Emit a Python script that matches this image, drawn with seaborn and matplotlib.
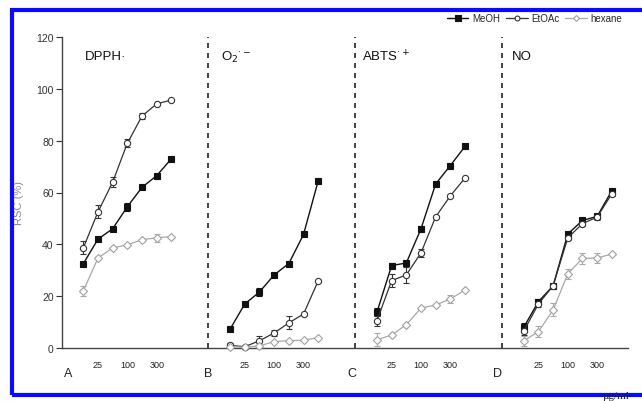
import numpy as np
import pandas as pd
import matplotlib
matplotlib.use("Agg")
import matplotlib.pyplot as plt
import seaborn as sns
from matplotlib.patches import Rectangle

sns.set_style("white")
plt.rcParams['font.family'] = ['Liberation Sans', 'DejaVu Sans']

# ---- data ----
panels = ["A", "B", "C", "D"]
assays = ["DPPH·", "O$_2$$^{·-}$", "ABTS$^{·+}$", "NO"]
concs = ["10", "25", "50", "100", "200", "300", "400"]
tick_concs = ["25", "100", "300"]
series = ["MeOH", "EtOAc", "hexane"]

meoh_A = [32.5, 42, 46, 54.5, 62, 66.5, 73]
meoh_B = [7.3, 17, 21.6, 28.2, 32.6, 43.8, 64.5]
meoh_C = [13.8, 31.8, 32.8, 46, 63.3, 70.4, 77.8]
meoh_D = [8, 17.9, 24, 44, 49.2, 50.8, 60.7]

etoac_A = [38.6, 52.5, 64, 79, 89.5, 94.2, 95.7]
etoac_B = [1, 0.5, 2.8, 5.8, 9.7, 13.1, 25.9]
etoac_C = [10.5, 26, 28.2, 36.7, 50.6, 58.7, 65.6]
etoac_D = [6.5, 17, 24, 42.5, 48, 50.5, 59.5]

hexane_A = [22, 34.7, 38.6, 39.8, 41.8, 42.5, 43]
hexane_B = [0.5, 0.3, 0.8, 2.5, 2.8, 3.0, 4.0]
hexane_C = [3.2, 5, 9, 15.4, 16.6, 18.9, 22.4]
hexane_D = [2.8, 6.3, 14.7, 28.6, 34.6, 34.7, 36.3]

meoh_err = [[0, 0, 0, 1.5, 0, 0, 0], [0, 0, 1.5, 0, 0, 0, 0],
            [1.5, 1, 0, 1, 0, 0, 0], [1.5, 1, 0.8, 0, 0, 0, 0]]
etoac_err = [[2.5, 2.5, 2, 1.5, 1, 0, 0], [1, 0.8, 2, 1, 2.5, 0, 0],
             [2, 2.5, 3, 1.5, 0, 0, 0], [1.5, 1, 0.8, 1, 1, 1, 1]]
hexane_err = [[2, 0, 0, 0, 0, 1.5, 0], [0, 0, 0, 0, 0, 0, 0],
              [2.5, 0, 0, 0, 0, 1.5, 0], [2, 2, 2.5, 2, 2, 2, 0]]

values = {"MeOH": [meoh_A, meoh_B, meoh_C, meoh_D],
          "EtOAc": [etoac_A, etoac_B, etoac_C, etoac_D],
          "hexane": [hexane_A, hexane_B, hexane_C, hexane_D]}
errors = {"MeOH": meoh_err, "EtOAc": etoac_err, "hexane": hexane_err}

rows = []
for s in series:
    for p, vals in enumerate(values[s]):
        for i, v in enumerate(vals):
            rows.append({"series": s, "panel": panels[p], "pos": p * 10 + i + 1,
                         "conc": concs[i], "RSC": v, "err": errors[s][p][i]})
df = pd.DataFrame(rows)

styles = {
    "MeOH": dict(color="#111111", marker="s", mfc="#111111", mec="#111111", ms=5, lw=1.0),
    "EtOAc": dict(color="#333333", marker="o", mfc="white", mec="#333333", ms=4.5, lw=0.9),
    "hexane": dict(color="#a8a8a8", marker="D", mfc="white", mec="#a0a0a0", ms=4, lw=0.9),
}

fig = plt.figure(figsize=(6.42, 4.02), dpi=100)
ax = fig.add_axes([62 / 642, 1 - 349 / 402, (628 - 62) / 642, (349 - 38) / 402])

handles = []
for s in series:
    st = styles[s]
    for p in panels:
        sub = df[(df.series == s) & (df.panel == p)]
        sns.lineplot(data=sub, x="pos", y="RSC", ax=ax, color=st["color"], lw=st["lw"],
                     marker=st["marker"], markerfacecolor=st["mfc"], markeredgecolor=st["mec"],
                     markersize=st["ms"], markeredgewidth=0.8, clip_on=False, legend=False,
                     zorder=3)
        e = sub[sub.err > 0]
        ax.errorbar(e.pos, e.RSC, yerr=e.err, fmt="none", ecolor=st["color"],
                    elinewidth=0.8, capsize=2.2, capthick=0.8, zorder=2, clip_on=False)
    handles.append(plt.Line2D([], [], color=st["color"], lw=st["lw"], marker=st["marker"],
                              mfc=st["mfc"], mec=st["mec"], ms=st["ms"] - 1, mew=0.8))

ax.set_ylim(0, 120)
ax.set_xlim(-0.45, 38.1)
ax.set_yticks(np.arange(0, 121, 20))
ax.tick_params(axis="y", direction="out", length=4, width=0.8, labelsize=7.5,
               colors="#333333", left=True, pad=2)
tick_pos = [p * 10 + concs.index(c) + 1 for p in range(4) for c in tick_concs]
ax.set_xticks(tick_pos)
ax.set_xticklabels(tick_concs * 4, fontsize=6.5)
ax.tick_params(axis="x", length=0, pad=9, colors="#222222")
ax.set_xlabel("")
ax.set_ylabel("RSC (%)", fontsize=8, color="#888888")
ax.yaxis.set_label_coords(-0.068, 0.47)

for sp in ["top", "right"]:
    ax.spines[sp].set_visible(False)
for sp in ["left", "bottom"]:
    ax.spines[sp].set_color("#444444")
    ax.spines[sp].set_linewidth(1.0)

for b in [9.5, 19.5, 29.5]:
    ax.plot([b, b], [0, 120], ls=(0, (3, 3)), color="#222222", lw=1.2, zorder=1)

letter_x = [0, 9.5, 19.3, 29.2]
for lx, lab in zip(letter_x, panels):
    ax.text(lx, -9.5, lab, ha="center", va="center", fontsize=9, color="#222222")

title_x = [1.1, 10.4, 20.0, 30.2]
for tx, t in zip(title_x, assays):
    ax.text(tx, 112.5, t, ha="left", va="center", fontsize=9.5, color="#111111")

fig.legend(handles, series, loc="center left", bbox_to_anchor=(447 / 642, 1 - 19 / 402),
           ncol=3, frameon=False, fontsize=7, handlelength=2.2, handletextpad=0.4,
           columnspacing=0.6, borderaxespad=0, borderpad=0)

fig.text(603 / 642, 1 / 402, "µg/ml", fontsize=8, family="Liberation Serif",
         ha="left", va="bottom", color="#222222", zorder=10)

fig.add_artist(Rectangle((12 / 642, 1 - 396 / 402), 1.05, (396 - 11) / 402,
                         transform=fig.transFigure, fill=False, edgecolor="#0a0aff",
                         lw=3.0, zorder=5))

fig.savefig("out.png", dpi=100)
